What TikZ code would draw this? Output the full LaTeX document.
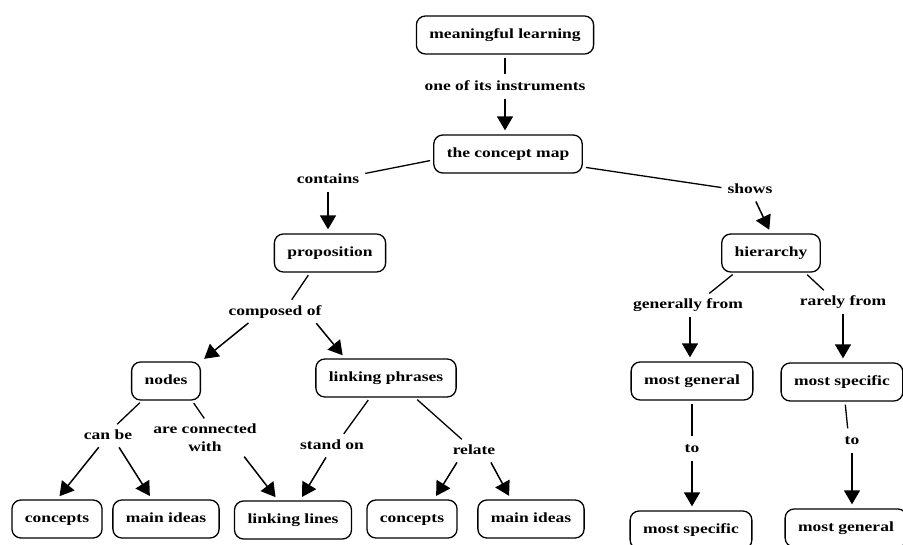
\documentclass[tikz,border=0pt]{standalone}
\usepackage{fontspec}
\setmainfont{Liberation Serif}[FakeStretch=1.25]
\usetikzlibrary{arrows.meta}
\tikzset{
  box/.style={draw, line width=1.3pt, rounded corners=9pt, minimum height=38pt, inner xsep=13pt,
    font=\fontsize{14}{18}\selectfont\bfseries, text height=10pt, text depth=3pt},
  labbase/.style={inner sep=3pt, font=\fontsize{14}{18}\selectfont\bfseries},
  lab/.style={labbase, text height=10pt, text depth=3pt},
  ln/.style={line width=1.3pt, shorten <=3pt, shorten >=3pt},
  arr/.style={line width=1.5pt, -{Triangle[length=14pt,width=16pt]}, shorten <=2pt, shorten >=4pt}
}
\begin{document}
\begin{tikzpicture}[x=1pt,y=-1pt]
\useasboundingbox (0,0) rectangle (903,545);
\clip (0,0) rectangle (903,545);
\fill[white] (0,0) rectangle (903,545);
% boxes
\node[box] (ml) at (505,35) {meaningful learning};
\node[box] (cm) at (508,154) {the concept map};
\node[box] (prop) at (330,253) {proposition};
\node[box] (hier) at (771,253) {hierarchy};
\node[box] (nodes) at (166,381) {nodes};
\node[box] (lp) at (386,378) {linking phrases};
\node[box] (c1) at (57,519) {concepts};
\node[box] (m1) at (166,519) {main ideas};
\node[box] (ll) at (293,520) {linking lines};
\node[box] (c2) at (412,519) {concepts};
\node[box] (m2) at (531,519) {main ideas};
\node[box] (mg) at (692,381) {most general};
\node[box] (ms1) at (842,382) {most specific};
\node[box] (ms2) at (691,530) {most specific};
\node[box] (mg2) at (846,528) {most general};
% labels
\node[lab] (l1) at (505,87) {one of its instruments};
\node[lab] (l2) at (328,180) {contains};
\node[lab] (l3) at (750,190) {shows};
\node[lab] (l4) at (275,312) {composed of};
\node[lab] (l5) at (108,436) {can be};
\node[labbase, align=center] (l6) at (205,438) {are connected\\with};
\node[lab] (l7) at (332,446) {stand on};
\node[lab] (l8) at (474,451) {relate};
\node[lab] (l9) at (688,305) {generally from};
\node[lab] (l10) at (843,302) {rarely from};
\node[lab] (l11) at (692,449) {to};
\node[lab] (l12) at (852,441) {to};
% connectors
\draw[ln] (ml.south) -- (l1.north);
\draw[arr] (l1.south) -- (l1.south |- cm.north);
\draw[ln] ([yshift=-6pt]cm.west) -- ([yshift=6pt]l2.east);
\draw[arr] (l2.south) -- (l2.south |- prop.north);
\draw[ln] ([yshift=-13pt]cm.east) -- ([yshift=2pt]l3.west);
\draw[arr] ([xshift=5pt]l3.south) -- (hier.north);
\draw[ln] ([xshift=-20pt]prop.south) -- ([xshift=15pt]l4.north);
\draw[arr] ([xshift=-25pt]l4.south) -- (nodes.north east);
\draw[arr] ([xshift=40pt]l4.south) -- ([xshift=30pt]lp.north west);
\draw[ln] ([xshift=-24pt]nodes.south) -- ([xshift=7pt]l5.north);
\draw[arr] ([xshift=-8pt]l5.south) -- (c1.north);
\draw[arr] ([xshift=10pt]l5.south) -- ([xshift=-14pt]m1.north);
\draw[ln] ([xshift=26pt]nodes.south) -- ([xshift=1pt]l6.north);
\draw[arr] ([xshift=38pt]l6.south) -- ([xshift=-15pt]ll.north);
\draw[ln] ([xshift=-16pt]lp.south) -- ([xshift=10pt]l7.north);
\draw[arr] ([xshift=-5pt]l7.south) -- ([xshift=7pt]ll.north);
\draw[ln] ([xshift=29pt]lp.south) -- ([xshift=-10pt]l8.north);
\draw[arr] ([xshift=-16pt]l8.south) -- ([xshift=22pt]c2.north);
\draw[arr] ([xshift=16pt]l8.south) -- ([xshift=-20pt]m2.north);
\draw[ln] ([xshift=-36pt]hier.south) -- ([xshift=19pt]l9.north);
\draw[arr] ([xshift=2pt]l9.south) -- ([xshift=-2pt]mg.north);
\draw[ln] ([xshift=34pt]hier.south) -- ([xshift=-17pt]l10.north);
\draw[arr] (l10.south) -- (l10.south |- ms1.north);
\draw[ln] (mg.south) -- (l11.north);
\draw[arr] (l11.south) -- (l11.south |- ms2.north);
\draw[ln] ([xshift=3pt]ms1.south) -- ([xshift=-4pt]l12.north);
\draw[arr] (l12.south) -- (l12.south |- mg2.north);
\end{tikzpicture}
\end{document}
